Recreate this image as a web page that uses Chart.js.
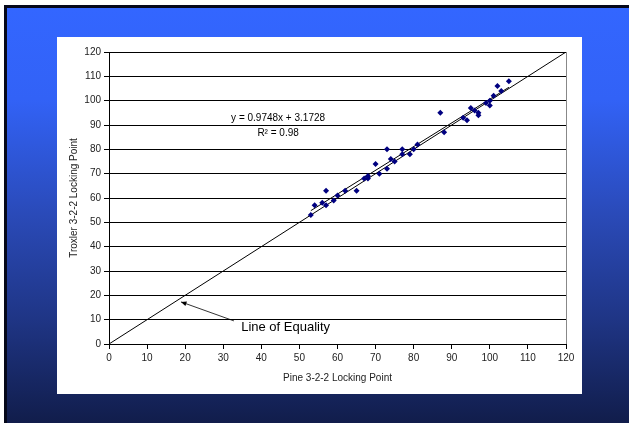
<!DOCTYPE html>
<html>
<head>
<meta charset="utf-8">
<script src="https://cdn.jsdelivr.net/npm/chart.js@4"></script>
<style>
  html, body { margin: 0; padding: 0; background: #fff; }
  canvas { display: block; }
</style>
</head>
<body>
<canvas id="grafico" width="629" height="423"></canvas>
<script>
// dados
const pineX = [53, 54, 56, 57, 57, 59, 60, 62, 65, 67, 68, 68, 70, 71, 73, 73, 74, 75, 77, 77, 79, 80, 81,
               87, 88, 93, 94, 95, 96, 97, 97, 99, 100, 100, 101, 102, 103, 105];
const troxlerY = [53, 57, 58, 63, 57, 59, 61, 63, 63, 68, 68, 69, 74, 70, 80, 72, 76, 75, 80, 78, 78, 80, 82,
                  95, 87, 93, 92, 97, 96, 95, 94, 99, 98, 100, 102, 106, 104, 108];
const trendX = [53, 105];
const trendY = [54.8, 105.5];
const equalX = [0, 120];
const equalY = [0, 120];
const equationText = ['y = 0.9748x + 3.1728', 'R² = 0.98'];
const equalityLabel = 'Line of Equality';

const toPts = (xs, ys) => xs.map((x, i) => ({ x: x, y: ys[i] }));

const fundo = {
  id: 'fundo',
  beforeDraw(chart) {
    const c = chart.ctx;
    c.save();
    c.fillStyle = '#ffffff';
    c.fillRect(0, 0, 629, 423);
    c.fillStyle = '#05081a';
    c.fillRect(4, 5, 625, 3);
    c.fillRect(4, 5, 3, 418);
    const g = c.createLinearGradient(0, 8, 0, 423);
    g.addColorStop(0, '#3366ff');
    g.addColorStop(0.22, '#3262f6');
    g.addColorStop(0.5, '#2a4ab8');
    g.addColorStop(0.75, '#1f3585');
    g.addColorStop(1, '#111d4b');
    c.fillStyle = g;
    c.fillRect(7, 8, 622, 415);
    c.fillStyle = '#ffffff';
    c.fillRect(57, 37, 525, 357);
    c.restore();
  },
  beforeDatasetsDraw(chart) {
    const a = chart.chartArea;
    const c = chart.ctx;
    c.save();
    c.strokeStyle = '#888888';
    c.lineWidth = 1;
    c.beginPath();
    c.moveTo(Math.round(a.right) + 0.5, a.top);
    c.lineTo(Math.round(a.right) + 0.5, a.bottom);
    c.stroke();
    c.restore();
  },
  afterDraw(chart) {
    const c = chart.ctx;
    const sx = chart.scales.x, sy = chart.scales.y;
    c.save();
    c.fillStyle = '#000';
    c.textAlign = 'center';
    c.textBaseline = 'middle';
    c.font = '10px Arial, "Liberation Sans"';
    c.fillText(equationText[0], sx.getPixelForValue(44.4), sy.getPixelForValue(92.9));
    c.fillText(equationText[1], sx.getPixelForValue(44.4), sy.getPixelForValue(86.7));

    // seta da linha de igualdade
    const tx = sx.getPixelForValue(32.8), ty = sy.getPixelForValue(9.5);
    const hx = sx.getPixelForValue(18.9), hy = sy.getPixelForValue(17.3);
    c.strokeStyle = '#000';
    c.lineWidth = 0.8;
    c.beginPath();
    c.moveTo(tx, ty);
    c.lineTo(hx, hy);
    c.stroke();
    const ang = Math.atan2(hy - ty, hx - tx);
    c.beginPath();
    c.moveTo(hx, hy);
    c.lineTo(hx - 6 * Math.cos(ang - 0.4), hy - 6 * Math.sin(ang - 0.4));
    c.lineTo(hx - 6 * Math.cos(ang + 0.4), hy - 6 * Math.sin(ang + 0.4));
    c.closePath();
    c.fill();

    c.textAlign = 'left';
    c.font = '13px Arial, "Liberation Sans"';
    c.fillText(equalityLabel, sx.getPixelForValue(34.7), sy.getPixelForValue(7.0));
    c.restore();
  }
};

const ctx = document.getElementById('grafico').getContext('2d');

new Chart(ctx, {
  type: 'scatter',
  data: {
    datasets: [
      {
        label: 'Pontos',
        data: toPts(pineX, troxlerY),
        pointStyle: 'rectRot',
        pointRadius: 3,
        backgroundColor: '#000080',
        borderColor: '#000080',
        borderWidth: 0
      },
      {
        label: 'Tendência',
        type: 'line',
        data: toPts(trendX, trendY),
        borderColor: '#000',
        borderWidth: 1,
        pointRadius: 0,
        fill: false
      },
      {
        label: 'Igualdade',
        type: 'line',
        data: toPts(equalX, equalY),
        borderColor: '#000',
        borderWidth: 1,
        pointRadius: 0,
        fill: false
      }
    ]
  },
  options: {
    responsive: false,
    animation: false,
    layout: { padding: { left: 57, right: 63, top: 52, bottom: 29 } },
    plugins: {
      legend: { display: false },
      tooltip: { enabled: false }
    },
    scales: {
      x: {
        type: 'linear',
        min: 0,
        max: 120,
        afterFit(scale) { scale.height = 50; },
        ticks: { stepSize: 10, color: '#222', font: { family: 'Arial, "Liberation Sans"', size: 10 }, maxRotation: 0, padding: 3 },
        grid: { drawOnChartArea: false, drawTicks: true, tickLength: 5, color: '#000' },
        border: { color: '#000', width: 1 },
        title: {
          display: true,
          text: 'Pine 3-2-2 Locking Point',
          color: '#222',
          font: { family: 'Arial, "Liberation Sans"', size: 10 },
          padding: { top: 0, bottom: 10 }
        }
      },
      y: {
        type: 'linear',
        min: 0,
        max: 120,
        afterFit(scale) { scale.width = 52; },
        ticks: { stepSize: 10, color: '#222', font: { family: 'Arial, "Liberation Sans"', size: 10 }, padding: 3 },
        grid: { drawTicks: true, tickLength: 5, color: '#000' },
        border: { color: '#000', width: 1 },
        title: {
          display: true,
          text: 'Troxler 3-2-2 Locking Point',
          color: '#222',
          font: { family: 'Arial, "Liberation Sans"', size: 10 },
          padding: { top: 11, bottom: 0 }
        }
      }
    }
  },
  plugins: [fundo]
});
</script>
</body>
</html>
